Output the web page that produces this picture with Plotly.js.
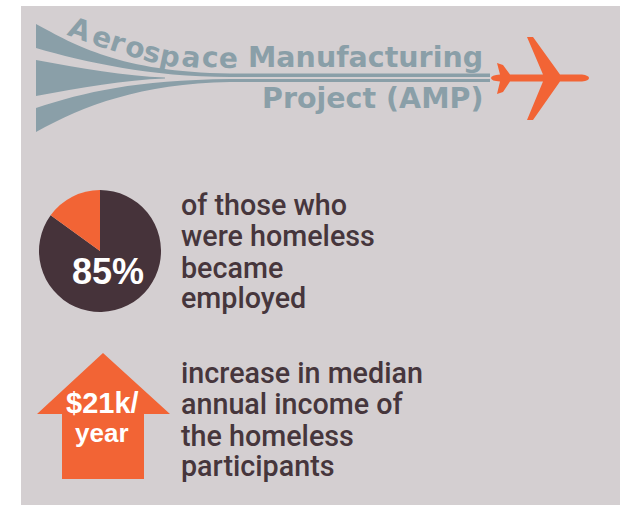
<!DOCTYPE html>
<html>
<head>
<meta charset="utf-8">
<script src="https://cdn.plot.ly/plotly-3.0.1.min.js"></script>
<style>html,body{margin:0;padding:0;background:#fff}#c{width:620px;height:505px}</style>
</head>
<body>
<div id="c"></div>
<script>
const pieLabels = ['Became employed', 'Did not'];
const pieValues = [85, 15];
const pieColors = ['#46333a', '#f26435'];
const statPie = '85%';
const statArrow = ['$21k/', 'year'];
const titleArc = ['A','e','r','o','s','p','a','c','e'];
const titleLine1 = 'Manufacturing';
const titleLine2 = 'Project (AMP)';
const pieText = ['of those who', 'were homeless', 'became', 'employed'];
const arrowText = ['increase in median', 'annual income of', 'the homeless', 'participants'];

const GREY = '#8a9fa8', ORANGE = '#f26435', PANEL = '#d4cfd1', INK = '#46363c';
const arcX = [80, 102, 118, 135, 152, 170, 191, 210, 228];
const arcY = [29, 37, 42, 47, 52, 56, 57, 57, 58];
const arcR = [20, 19, 18, 17, 15, 12, 7, 3, 1];

const anns = [];
function txt(t, x, y, size, color, fam, weight, anchor, rot) {
  anns.push({text: t, x, y, xref: 'x', yref: 'y', showarrow: false, xanchor: anchor || 'left', yanchor: 'middle',
    textangle: rot || 0, font: {family: fam, size, color, weight}});
}
const HEAD = 'DejaVu Sans', BODY = 'Roboto', STAT = 'Liberation Sans';
titleArc.forEach((c, i) => txt(c, arcX[i], arcY[i], 28, GREY, HEAD, 700, 'center', arcR[i]));
txt(titleLine1, 246, 57, 28.5, GREY, HEAD, 700);
txt(titleLine2, 260, 98, 28.5, GREY, HEAD, 700);
[205, 236, 268, 298].forEach((y, i) => txt(pieText[i], 179, y, 28.7, INK, BODY, 500));
[373, 404, 436, 466].forEach((y, i) => txt(arrowText[i], 179, y, 28.7, INK, BODY, 500));
txt(statPie, 108, 271, 36, '#fff', STAT, 700, 'center');
txt(statArrow[0], 102, 403, 29, '#fff', STAT, 700, 'center');
txt(statArrow[1], 102, 433, 26, '#fff', STAT, 700, 'center');

function s(path, fill) {
  return {type: 'path', xref: 'x', yref: 'y', layer: 'below', path, fillcolor: fill, line: {width: 0}};
}
const shapes = [
  {type: 'rect', xref: 'x', yref: 'y', layer: 'below', x0: 21, x1: 620, y0: 6, y1: 505, fillcolor: PANEL, line: {width: 0}},
  s('M36,24 C75,45 120,72 230,73.5 L490,73.5 L490,77 L230,77 C150,77 85,62 36,48 Z', GREY),
  s('M36,60 C80,68 125,76 165,77.5 L165,78.5 C125,80 80,88 36,96 Z', GREY),
  s('M36,108 C85,92 135,80 230,79 L490,79 L490,82 L230,82 C140,84 85,105 36,132 Z', GREY),
  s('M491,78 Q491,75 500,74.5 L497,63 L503,65 L510,74.5 L543,74.5 L527,37 L533,37 L560,74.5 L582,74.5 Q589,75.5 589,78 Q589,80.5 582,81.5 L560,81.5 L533,120 L527,120 L543,81.5 L510,81.5 L503,92 L497,94 L500,81.5 Q491,81 491,78 Z', ORANGE),
  s('M103,353 L170,414 L144,414 L144,479 L62,479 L62,414 L37,414 Z', ORANGE)
];

const W = 620, H = 505, cx = 100, cy = 251, r = 61;
const data = [
  {type: 'scatter', x: [0, 620], y: [0, 505], mode: 'none', hoverinfo: 'skip', showlegend: false},
  {type: 'pie', labels: pieLabels, values: pieValues, sort: false, direction: 'clockwise', rotation: 0,
   marker: {colors: pieColors, line: {width: 0}}, textinfo: 'none', hoverinfo: 'label+percent', showlegend: false,
   domain: {x: [(cx - r) / W, (cx + r) / W], y: [1 - (cy + r) / H, 1 - (cy - r) / H]}}
];
const axis = {visible: false, showgrid: false, zeroline: false, fixedrange: true};
Plotly.newPlot('c', data, {
  width: W, height: H, margin: {l: 0, r: 0, t: 0, b: 0},
  paper_bgcolor: '#fff', plot_bgcolor: 'rgba(0,0,0,0)', showlegend: false,
  xaxis: Object.assign({range: [0, W]}, axis),
  yaxis: Object.assign({range: [H, 0]}, axis),
  shapes, annotations: anns
}, {displayModeBar: false, staticPlot: true});
</script>
</body>
</html>
